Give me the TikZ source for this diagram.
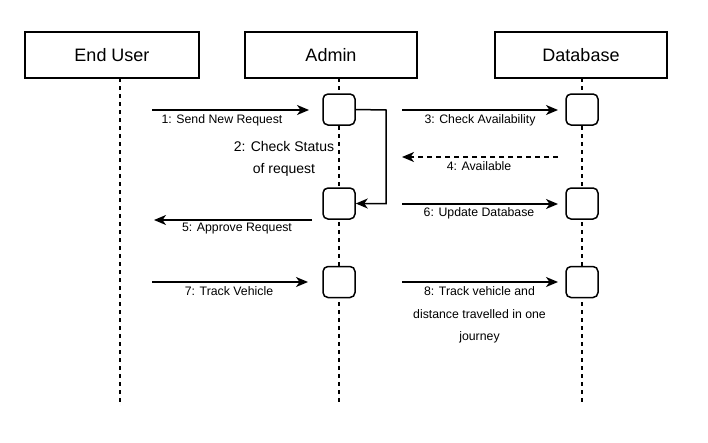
\documentclass[tikz,border=0pt]{standalone}
\usepackage{fontspec}
\setmainfont{Liberation Sans}
\usetikzlibrary{arrows.meta}
\begin{document}
\begin{tikzpicture}[x=1pt,y=-1pt,
  hdr/.style={draw, line width=1.5pt, minimum height=46pt, inner sep=0pt, font=\fontsize{18}{21}\selectfont},
  life/.style={line width=1.3pt, dash pattern=on 4pt off 4pt},
  act/.style={draw, fill=white, line width=1.5pt, rounded corners=5pt, minimum width=32pt, minimum height=31pt, inner sep=0pt},
  msg/.style={line width=1.5pt, -{Stealth[length=12pt, width=10pt, inset=3.5pt]}},
  ret/.style={msg, dash pattern=on 5pt off 4pt},
  lbl/.style={inner sep=0pt, font=\fontsize{12.3}{14}\selectfont},
  lblb/.style={inner sep=0pt, align=center, font=\fontsize{12.3}{22.5}\selectfont},
  lbl2/.style={inner sep=0pt, align=center, font=\fontsize{14}{22.3}\selectfont}
]
\useasboundingbox (0,0) rectangle (708,442);

% headers
\node[hdr, minimum width=174pt] (eu) at (112,55) {End User};
\node[hdr, minimum width=172pt] (ad) at (331,55) {Admin};
\node[hdr, minimum width=172pt] (db) at (581,55) {Database};

% lifeline coordinates
\coordinate (eutop) at (120,78);
\coordinate (eubot) at (120,405);
\coordinate (adtop) at (339,78);
\coordinate (adbot) at (339,405);
\coordinate (dbtop) at (582,78);
\coordinate (dbbot) at (582,405);

\draw[life] (eutop) -- (eubot);
\draw[life] (adtop) -- (adbot);
\draw[life] (dbtop) -- (dbbot);

% activations
\node[act] (a1) at (339,109.5) {};
\node[act] (a2) at (339,203.5) {};
\node[act] (a3) at (339,282) {};
\node[act] (d1) at (582,109.5) {};
\node[act] (d2) at (582,203.5) {};
\node[act] (d3) at (582,282) {};

% message end points
\coordinate (m1s) at (152,110);  \coordinate (m1e) at (309,110);
\coordinate (m3s) at (402,110);  \coordinate (m3e) at (558,110);
\coordinate (m4s) at (558,157);  \coordinate (m4e) at (402,157);
\coordinate (m5s) at (312,220);  \coordinate (m5e) at (154,220);
\coordinate (m6s) at (402,204);  \coordinate (m6e) at (558,204);
\coordinate (m7s) at (152,282);  \coordinate (m7e) at (308,282);
\coordinate (m8s) at (402,282);  \coordinate (m8e) at (558,282);
\coordinate (selfx) at (386,110);

\draw[msg] (m1s) -- (m1e);
\draw[msg] (m3s) -- (m3e);
\draw[ret] (m4s) -- (m4e);
\draw[msg] (a1.east) -- (selfx) |- (a2.east);
\draw[msg] (m5s) -- (m5e);
\draw[msg] (m6s) -- (m6e);
\draw[msg] (m7s) -- (m7e);
\draw[msg] (m8s) -- (m8e);

% labels
\node[lbl] (l1) at (222,120) {1: Send New Request};
\node[lbl2] (l2) at (284,159) {2: Check Status\\of request};
\node[lbl] (l3) at (480,120) {3: Check Availability};
\node[lbl] (l4) at (479,166) {4: Available};
\node[lbl] (l5) at (237,228.5) {5: Approve Request};
\node[lbl] (l6) at (479,213) {6: Update Database};
\node[lbl] (l7) at (229,291) {7: Track Vehicle};
\node[lblb] (l8) at (479.5,315) {8: Track vehicle and\\distance travelled in one\\journey};
\end{tikzpicture}
\end{document}
